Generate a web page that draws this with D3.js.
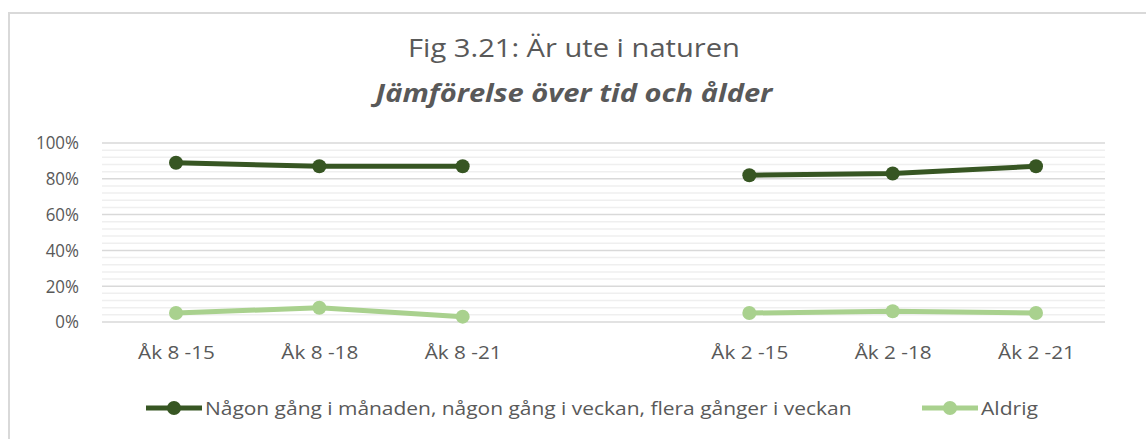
<!DOCTYPE html>
<html>
<head>
<meta charset="utf-8">
<script src="https://cdn.jsdelivr.net/npm/d3@7"></script>
<style>
  html, body { margin: 0; background: #fff; overflow: hidden; }
  svg { display: block; overflow: hidden; font-family: "Open Sans", Lato, sans-serif; }
</style>
</head>
<body>
<script>
// chart data
var categories = ['Åk 8 -15', 'Åk 8 -18', 'Åk 8 -21', '', 'Åk 2 -15', 'Åk 2 -18', 'Åk 2 -21'];
var seriesNames = ['Någon gång i månaden, någon gång i veckan, flera gånger i veckan', 'Aldrig'];
var ofta = [89, 87, 87, null, 82, 83, 87];
var aldrig = [5, 8, 3, null, 5, 6, 5];
var yTicks = [0, 20, 40, 60, 80, 100];
var colors = ['#375623', '#a9d18e'];

var width = 1146, height = 439;
var plotLeft = 102, plotRight = 1105, plotTop = 143, plotBottom = 322;
var font = '"Open Sans", Lato, sans-serif';

var svg = d3.select('body').append('svg')
  .attr('width', width)
  .attr('height', height);

// chart frame: only the top and left edges are inside the picture
svg.append('path')
  .attr('d', 'M9,' + height + 'V13H' + width)
  .attr('fill', 'none')
  .attr('stroke', '#d9d9d9')
  .attr('stroke-width', 2);

var x = d3.scalePoint().domain(categories).range([176, 1036]);
var y = d3.scaleLinear().domain([0, 100]).range([plotBottom, plotTop]);

// squeeze text horizontally around its anchor (Calibri is narrower than what we have)
function squeeze(sel, s) {
  sel.each(function() {
    var ax = +(d3.select(this).attr('x') || 0);
    d3.select(this).attr('transform', 'translate(' + (ax * (1 - s)) + ',0) scale(' + s + ',1)');
  });
}
function fitWidth(sel, w) {
  sel.each(function() {
    var len = this.getComputedTextLength();
    if (len > 0) squeeze(d3.select(this), w / len);
  });
}

// minor gridlines every 4%
svg.append('g').selectAll('line')
  .data(d3.range(0, 101, 4).filter(function(v) { return v % 20 !== 0; }))
  .enter().append('line')
  .attr('x1', plotLeft).attr('x2', plotRight)
  .attr('y1', function(d) { return y(d); })
  .attr('y2', function(d) { return y(d); })
  .attr('stroke', '#efefef')
  .attr('stroke-width', 1.5);

// major gridlines
svg.append('g').selectAll('line')
  .data(yTicks)
  .enter().append('line')
  .attr('x1', plotLeft).attr('x2', plotRight)
  .attr('y1', function(d) { return y(d); })
  .attr('y2', function(d) { return y(d); })
  .attr('stroke', '#d9d9d9')
  .attr('stroke-width', 1.5);

// y axis labels
var yAxis = d3.axisLeft(y).tickValues(yTicks).tickSize(0).tickPadding(0)
  .tickFormat(function(d) { return d + '%'; });
var gy = svg.append('g').attr('transform', 'translate(79,0)').call(yAxis);
gy.select('.domain').remove();
gy.selectAll('text')
  .attr('font-size', 18.5)
  .attr('fill', '#595959')
  .attr('font-family', font);
var hundred = gy.selectAll('text').filter(function(d) { return d === 100; }).node();
var yRatio = 43 / hundred.getComputedTextLength();
gy.selectAll('text').call(squeeze, yRatio);

// x axis labels
var xAxis = d3.axisBottom(x).tickSize(0).tickPadding(0);
var gx = svg.append('g').attr('transform', 'translate(0,346)').call(xAxis);
gx.select('.domain').remove();
gx.selectAll('text')
  .attr('font-size', 18.5)
  .attr('fill', '#595959')
  .attr('font-family', font);
gx.selectAll('.tick text').filter(function(d) { return d !== ''; }).call(fitWidth, 77);

// series
var line = d3.line()
  .defined(function(d) { return d.v != null; })
  .x(function(d) { return x(d.c); })
  .y(function(d) { return y(d.v); });

[aldrig, ofta].forEach(function(vals, k) {
  var col = k === 0 ? colors[1] : colors[0];
  var pts = categories.map(function(c, i) { return { c: c, v: vals[i] }; });
  svg.append('path')
    .datum(pts)
    .attr('d', line)
    .attr('fill', 'none')
    .attr('stroke', col)
    .attr('stroke-width', 5)
    .attr('stroke-linejoin', 'round');
  svg.append('g').selectAll('circle')
    .data(pts.filter(function(d) { return d.v != null; }))
    .enter().append('circle')
    .attr('cx', function(d) { return x(d.c); })
    .attr('cy', function(d) { return y(d.v); })
    .attr('r', 7)
    .attr('fill', col);
});

// titles
svg.append('text')
  .attr('x', 574).attr('y', 57)
  .attr('text-anchor', 'middle')
  .attr('font-size', 25)
  .attr('fill', '#595959')
  .text('Fig 3.21: Är ute i naturen')
  .call(fitWidth, 332);

svg.append('text')
  .attr('x', 574).attr('y', 102)
  .attr('text-anchor', 'middle')
  .attr('font-size', 25)
  .attr('font-weight', 'bold')
  .attr('font-style', 'italic')
  .attr('fill', '#595959')
  .text('Jämförelse över tid och ålder')
  .call(fitWidth, 397);

// legend
var legendItems = [
  { name: seriesNames[0], color: colors[0], x0: 146, w: 647 },
  { name: seriesNames[1], color: colors[1], x0: 922, w: 57 }
];
var lg = svg.append('g').selectAll('g')
  .data(legendItems)
  .enter().append('g')
  .attr('transform', function(d) { return 'translate(' + d.x0 + ',408)'; });
lg.append('line')
  .attr('x1', 0).attr('x2', 56)
  .attr('stroke', function(d) { return d.color; })
  .attr('stroke-width', 5);
lg.append('circle')
  .attr('cx', 28).attr('r', 7)
  .attr('fill', function(d) { return d.color; });
lg.append('text')
  .attr('x', 59).attr('y', 6.5)
  .attr('font-size', 18.5)
  .attr('fill', '#595959')
  .text(function(d) { return d.name; })
  .each(function(d) { d3.select(this).call(fitWidth, d.w); });
</script>
</body>
</html>
